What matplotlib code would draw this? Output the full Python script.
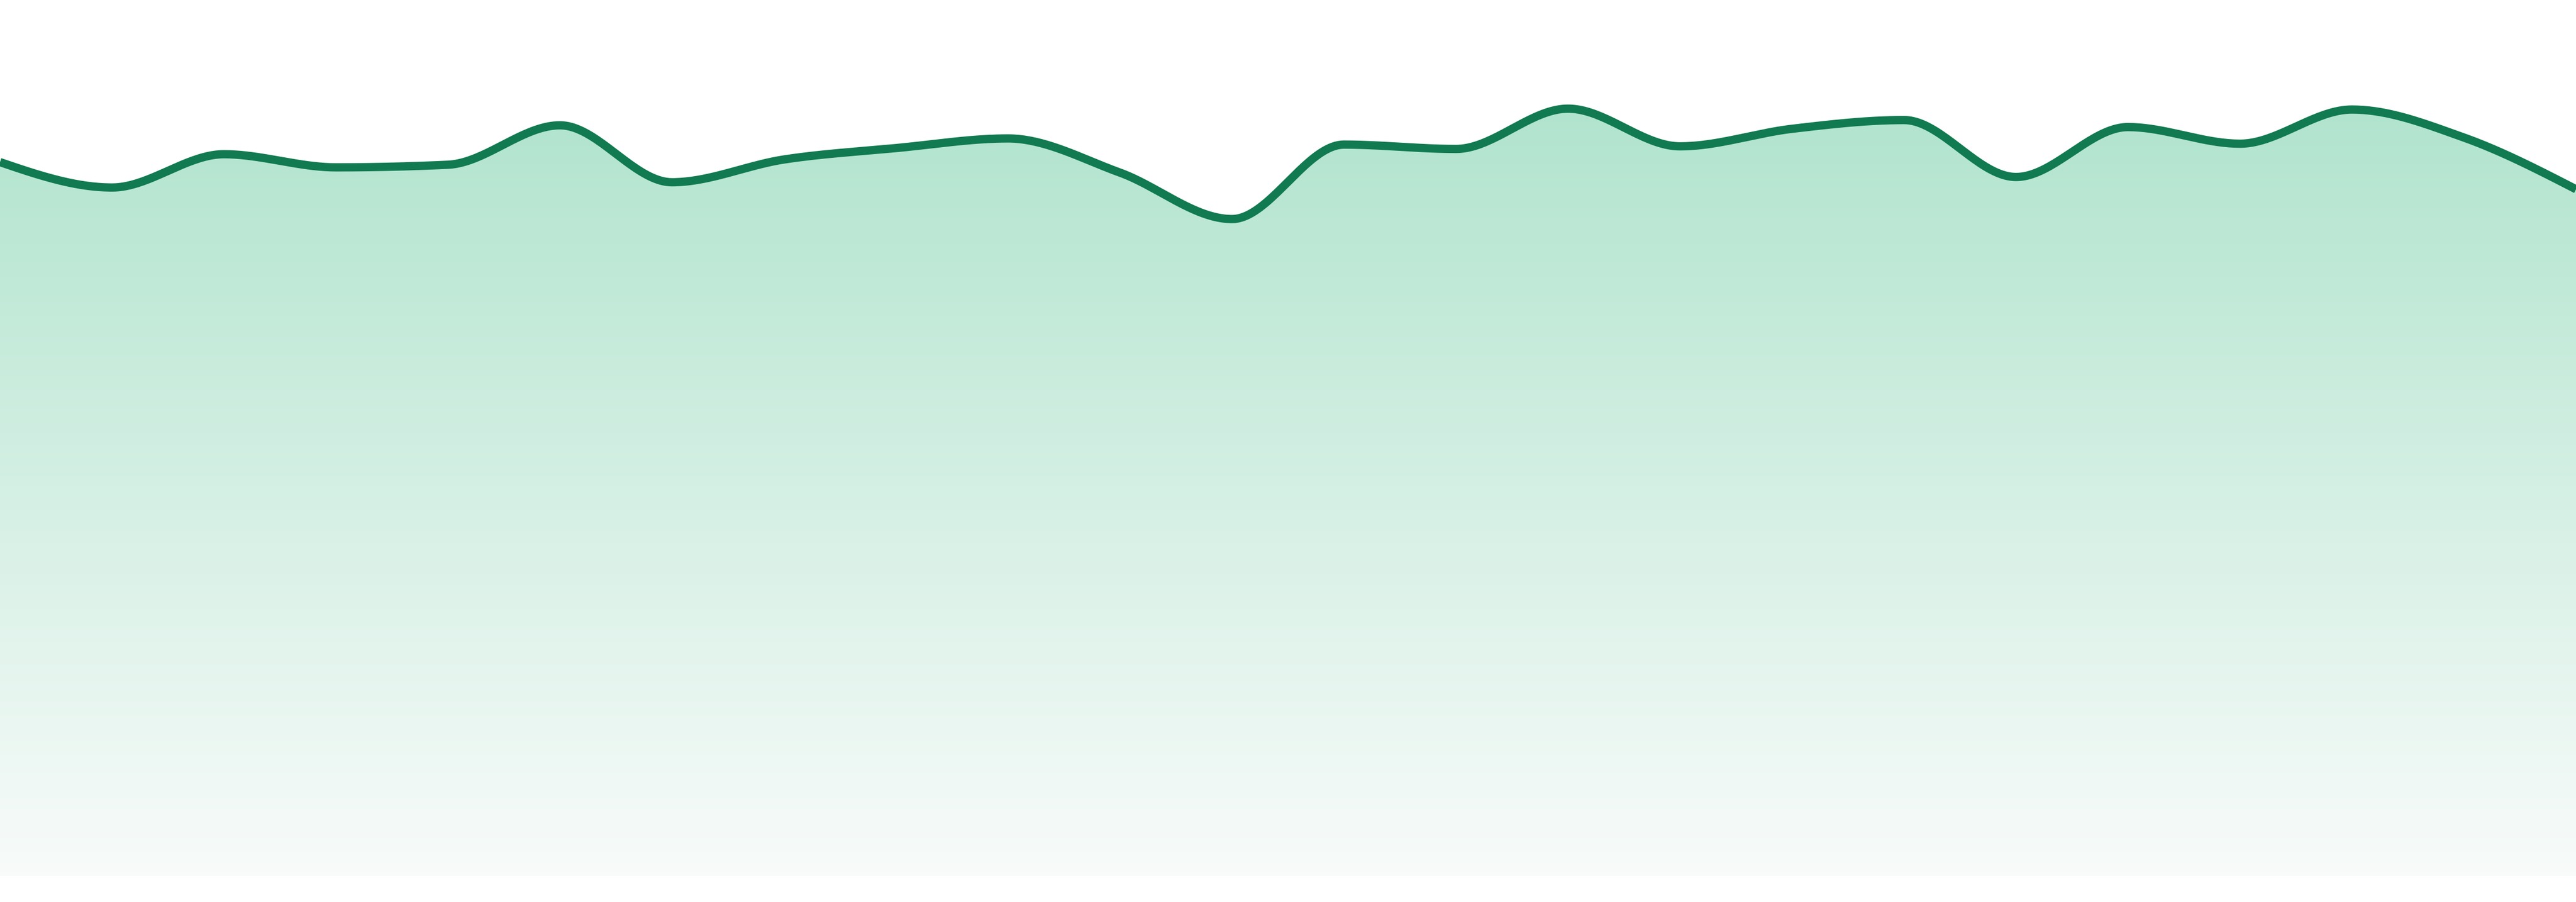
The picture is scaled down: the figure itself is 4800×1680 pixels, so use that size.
"""Area sparkline with a green gradient fill (monotone curve, no axes)."""

import numpy as np
import matplotlib

matplotlib.use("Agg")
import matplotlib.pyplot as plt
from matplotlib.colors import LinearSegmentedColormap

# 24 evenly spaced samples (y axis runs 0..100)
idx = list(range(24))
values = [81.5, 78.6, 82.4, 80.9, 81.2, 85.7, 79.2, 81.8, 83.1, 84.2, 80.3, 75.0,
          83.5, 83.0, 87.6, 83.3, 85.3, 86.3, 79.8, 85.5, 83.6, 87.5, 84.3, 78.4]

LINE_COLOR = "#117a50"
FILL_TOP = "#b1e4ce"
FILL_BOTTOM = "#f8fbfa"


def monotone_x(x, y, n=40):
    """d3.curveMonotoneX 와 같은 방식의 보간 곡선."""
    x = np.asarray(x, dtype=float)
    y = np.asarray(y, dtype=float)
    h = np.diff(x)
    s = np.diff(y) / h
    t = np.zeros_like(y)
    for i in range(1, len(y) - 1):
        s0, s1 = s[i - 1], s[i]
        p = (s0 * h[i] + s1 * h[i - 1]) / (h[i - 1] + h[i])
        t[i] = (np.sign(s0) + np.sign(s1)) * min(abs(s0), abs(s1), 0.5 * abs(p))
    t[0] = (3 * s[0] - t[1]) / 2
    t[-1] = (3 * s[-1] - t[-2]) / 2

    xs, ys = [], []
    for i in range(len(x) - 1):
        u = np.linspace(0, 1, n, endpoint=(i == len(x) - 2))
        dx = h[i]
        h00 = 2 * u**3 - 3 * u**2 + 1
        h10 = u**3 - 2 * u**2 + u
        h01 = -2 * u**3 + 3 * u**2
        h11 = u**3 - u**2
        xs.append(x[i] + u * dx)
        ys.append(h00 * y[i] + h10 * dx * t[i] + h01 * y[i + 1] + h11 * dx * t[i + 1])
    return np.concatenate(xs), np.concatenate(ys)


fig = plt.figure(figsize=(16, 5.6), dpi=300)
ax = fig.add_axes([0, 48 / 1680, 1, 1632 / 1680])
ax.set_xlim(idx[0], idx[-1])
ax.set_ylim(0, 100)
ax.axis("off")

cx, cy = monotone_x(idx, values)

# 그라데이션 채우기
area = ax.fill_between(cx, cy, 0, color="none", linewidth=0)
cmap = LinearSegmentedColormap.from_list("fade", [FILL_BOTTOM, FILL_TOP])
grad = np.linspace(0, 1, 256).reshape(-1, 1)
img = ax.imshow(grad, cmap=cmap, origin="lower", aspect="auto",
                extent=[idx[0], idx[-1], 0, max(values)], interpolation="bicubic")
img.set_clip_path(area.get_paths()[0], transform=ax.transData)

ax.plot(cx, cy, color=LINE_COLOR, linewidth=3.7, solid_capstyle="butt")

ax.set_xlim(idx[0], idx[-1])
ax.set_ylim(0, 100)

fig.savefig("out.png", dpi=300, facecolor="white")
plt.close(fig)
